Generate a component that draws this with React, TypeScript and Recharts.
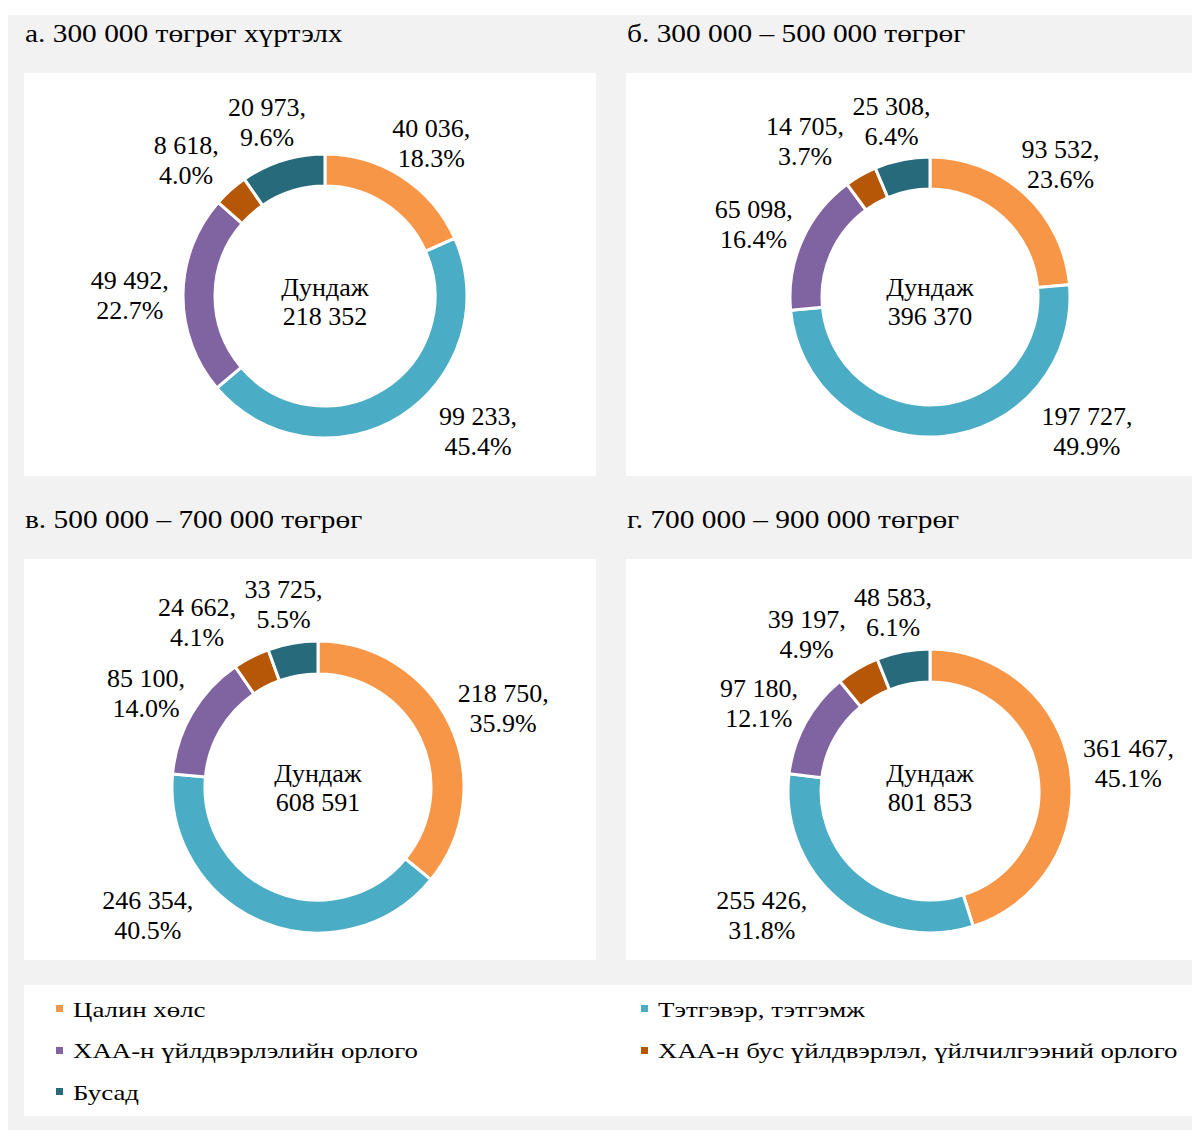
import { PieChart, Pie, Cell } from 'recharts'

const categories = [
  'Цалин хөлс',
  'Тэтгэвэр, тэтгэмж',
  'ХАА-н үйлдвэрлэлийн орлого',
  'ХАА-н бус үйлдвэрлэл, үйлчилгээний орлого',
  'Бусад',
]
const colors = ['#F79646', '#4BACC6', '#8064A2', '#B65708', '#276A7C']

const titles = [
  'а. 300 000 төгрөг хүртэлх',
  'б. 300 000 – 500 000 төгрөг',
  'в. 500 000 – 700 000 төгрөг',
  'г. 700 000 – 900 000 төгрөг',
]
const valuesA = [40036, 99233, 49492, 8618, 20973]
const valuesB = [93532, 197727, 65098, 14705, 25308]
const valuesC = [218750, 246354, 85100, 24662, 33725]
const valuesD = [361467, 255426, 97180, 39197, 48583]
// shares as printed on the chart (rounded to add up to 100)
const pctA = [18.3, 45.4, 22.7, 4.0, 9.6]
const pctB = [23.6, 49.9, 16.4, 3.7, 6.4]
const pctC = [35.9, 40.5, 14.0, 4.1, 5.5]
const pctD = [45.1, 31.8, 12.1, 4.9, 6.1]
const averages = [218352, 396370, 608591, 801853]
const centerLabel = 'Дундаж'

const FONT = "'Liberation Serif', 'Times New Roman', serif"
const RAD = Math.PI / 180

// panel layout inside the grey frame
const panels = [
  { left: 16, top: 58, w: 572, h: 403, cx: 301, cy: 223, r: 142, ir: 110, titleTop: 4 },
  { left: 618, top: 58, w: 571, h: 403, cx: 304, cy: 224, r: 140, ir: 108, titleTop: 4 },
  { left: 16, top: 544, w: 572, h: 401, cx: 294, cy: 228, r: 146, ir: 113, titleTop: 490 },
  { left: 618, top: 544, w: 571, h: 401, cx: 304, cy: 232, r: 142, ir: 109, titleTop: 490 },
]
const allValues = [valuesA, valuesB, valuesC, valuesD]
const allPct = [pctA, pctB, pctC, pctD]

const fmt = (n: number) => String(n).replace(/\B(?=(\d{3})+(?!\d))/g, ' ')

type LabelPos = { x: number; y: number; w: number; h: number; l1: string; l2: string }

// outside-end placement like the office "best fit": box touches a ring just outside the donut,
// kept inside the panel and pushed sideways when two neighbours collide
function labelLayout(idx: number): LabelPos[] {
  const p = panels[idx]
  const values = allValues[idx]
  const pcts = allPct[idx]
  const total = values.reduce((a, b) => a + b, 0)
  const R = p.r + 10
  let cum = 0
  const items = values.map((v, i) => {
    const mid = 90 - ((cum + v / 2) / total) * 360
    cum += v
    const c = Math.cos(mid * RAD)
    const s = -Math.sin(mid * RAD)
    const l1 = fmt(v) + ','
    const l2 = pcts[i].toFixed(1) + '%'
    const w = Math.max(l1.length, l2.length) * 11.2 + 8
    const h = 60
    let x = p.cx + R * c + (c * w) / 2
    let y = p.cy + R * s + (s * h) / 2
    const minY = 43
    const maxY = p.h - 45
    if (y < minY || y > maxY) {
      y = Math.min(Math.max(y, minY), maxY)
      const dy = Math.max(Math.abs(y - p.cy) - h / 2, 0)
      const dx = Math.sqrt(Math.max(R * R - dy * dy, 0)) + w / 2
      x = p.cx + (c >= 0 ? 1 : -1) * dx
    }
    return { x, y, w, h, l1, l2 }
  })
  for (let i = items.length - 2; i >= 0; i--) {
    const a = items[i]
    const b = items[i + 1]
    if (Math.abs(a.y - b.y) < a.h && Math.abs(a.x - b.x) < (a.w + b.w) / 2) {
      const dir = a.x <= b.x ? -1 : 1
      a.x = b.x + (dir * (a.w + b.w)) / 2
    }
  }
  return items
}

function makeLabel(layout: LabelPos[]) {
  return (props: any) => {
    const it = layout[props.index]
    return (
      <text textAnchor="middle" fontSize={26} fontFamily={FONT} fill="#000">
        <tspan x={it.x} y={it.y - 6}>{it.l1}</tspan>
        <tspan x={it.x} y={it.y + 24}>{it.l2}</tspan>
      </text>
    )
  }
}

function Donut({ idx }: { idx: number }) {
  const p = panels[idx]
  const data = categories.map((name, i) => ({ name, value: allValues[idx][i] }))
  const layout = labelLayout(idx)
  return (
    <>
      <div
        style={{
          position: 'absolute', left: p.left + 1, top: p.titleTop, fontSize: 26, lineHeight: '30px',
          whiteSpace: 'nowrap', transform: 'scaleX(1.13)', transformOrigin: 'left center',
        }}
      >
        {titles[idx]}
      </div>
      <div style={{ position: 'absolute', left: p.left, top: p.top, width: p.w, height: p.h, background: '#fff' }}>
        <PieChart width={p.w} height={p.h} margin={{ top: 0, right: 0, bottom: 0, left: 0 }}>
          <Pie
            data={data}
            dataKey="value"
            nameKey="name"
            cx={p.cx}
            cy={p.cy}
            innerRadius={p.ir}
            outerRadius={p.r}
            startAngle={90}
            endAngle={-270}
            stroke="#fff"
            strokeWidth={3}
            labelLine={false}
            label={makeLabel(layout)}
            isAnimationActive={false}
          >
            {data.map((d, i) => (
              <Cell key={d.name} fill={colors[i]} />
            ))}
          </Pie>
        </PieChart>
        <div
          style={{
            position: 'absolute', left: p.cx - 100, width: 200, top: 199.5,
            textAlign: 'center', fontSize: 26, lineHeight: '29.5px',
          }}
        >
          <div>{centerLabel}</div>
          <div>{fmt(averages[idx])}</div>
        </div>
      </div>
    </>
  )
}

export default function App() {
  return (
    <div
      style={{
        position: 'relative', marginTop: 7, width: 1192, height: 1115,
        background: '#F2F2F2', fontFamily: FONT, color: '#000', overflow: 'hidden',
      }}
    >
      {[0, 1, 2, 3].map(i => <Donut key={i} idx={i} />)}
      <div style={{ position: 'absolute', left: 16, top: 970, width: 1174, height: 131, background: '#fff' }}>
        {categories.map((name, i) => {
          const col = i % 2
          const row = Math.floor(i / 2)
          return (
            <div
              key={name}
              style={{
                position: 'absolute', left: col === 0 ? 32 : 617, top: 11.6 + row * 41.5,
                fontSize: 22, lineHeight: '26px', whiteSpace: 'nowrap',
              }}
            >
              <span style={{ position: 'absolute', left: 0, top: 8.5, width: 7, height: 7, background: colors[i] }} />
              <span
                style={{
                  position: 'absolute', left: 17, display: 'inline-block',
                  transform: 'scaleX(1.22)', transformOrigin: 'left center',
                }}
              >
                {name}
              </span>
            </div>
          )
        })}
      </div>
    </div>
  )
}
